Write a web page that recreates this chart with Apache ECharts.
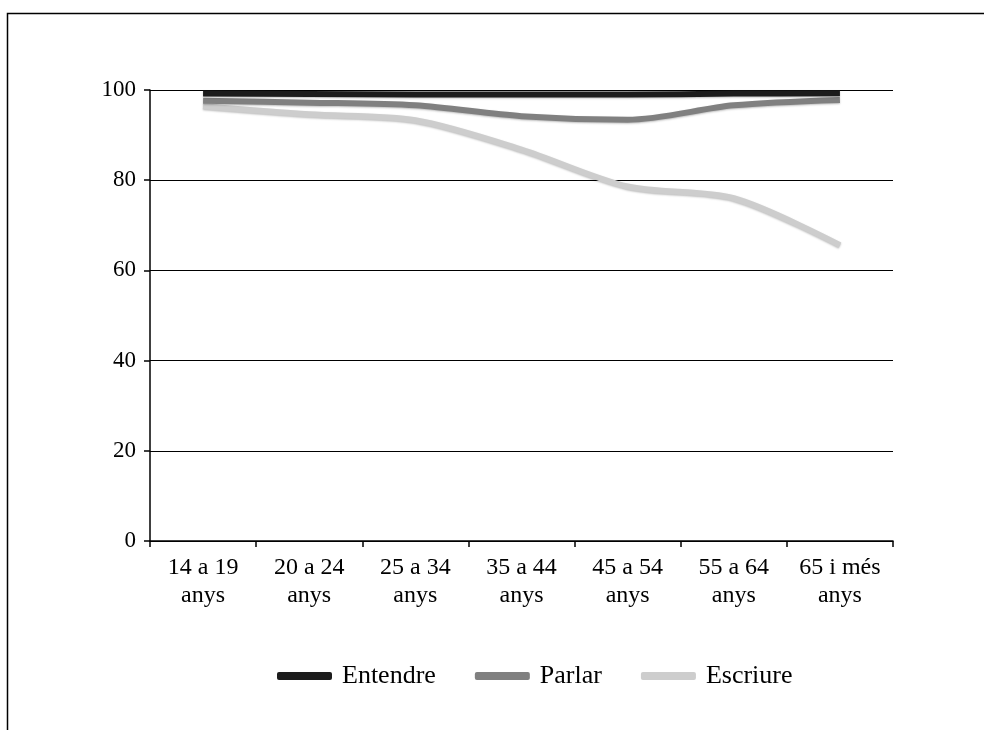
<!DOCTYPE html>
<html>
<head>
<meta charset="utf-8">
<script src="https://cdn.jsdelivr.net/npm/echarts@6/dist/echarts.min.js"></script>
<style>
  html, body { margin: 0; padding: 0; background: #fff; }
  #chart { width: 984px; height: 730px; }
</style>
</head>
<body>
<div id="chart"></div>
<script>
const categories = ["14 a 19\nanys", "20 a 24\nanys", "25 a 34\nanys", "35 a 44\nanys", "45 a 54\nanys", "55 a 64\nanys", "65 i més\nanys"];
const entendre = [99.2, 99.1, 99.0, 99.0, 99.0, 99.2, 99.3];
const parlar = [97.6, 97.2, 96.6, 94.2, 93.4, 96.6, 97.8];
const escriure = [96.4, 94.6, 93.3, 86.8, 78.6, 76.0, 65.6];
const yTicks = [0, 20, 40, 60, 80, 100];

const serif = "Liberation Serif";
const chart = echarts.init(document.getElementById("chart"));

function lineSeries(name, data, color, z) {
  return {
    name: name,
    type: "line",
    data: data,
    symbol: "none",
    smooth: 0.3,
    z: z,
    lineStyle: {
      color: color,
      width: 6,
      shadowColor: "rgba(0,0,0,0.25)",
      shadowBlur: 2,
      shadowOffsetY: 1
    },
    itemStyle: { color: color }
  };
}

chart.setOption({
  animation: false,
  backgroundColor: "#fff",
  graphic: [{
    type: "rect",
    left: 5,
    top: 11,
    shape: { width: 1100, height: 900 },
    style: { fill: "none", stroke: "#000", lineWidth: 1.5 },
    z: -1
  }],
  grid: { left: 150, right: 91, top: 90, bottom: 189 },
  legend: {
    data: ["Entendre", "Parlar", "Escriure"],
    left: 272,
    top: 658,
    itemWidth: 55,
    itemHeight: 8,
    itemGap: 39,
    icon: "roundRect",
    textStyle: {
      fontFamily: serif,
      fontSize: 26,
      color: "#000",
      padding: [0, 0, 0, 5]
    }
  },
  xAxis: {
    type: "category",
    data: categories,
    boundaryGap: true,
    axisLine: { lineStyle: { color: "#000", width: 1.5 } },
    axisTick: { show: true, length: 6, lineStyle: { color: "#000", width: 1.5 } },
    axisLabel: {
      fontFamily: serif,
      fontSize: 24,
      color: "#000",
      lineHeight: 28,
      margin: 13,
      interval: 0
    }
  },
  yAxis: {
    type: "value",
    min: yTicks[0],
    max: yTicks[yTicks.length - 1],
    interval: 20,
    axisLine: { show: true, lineStyle: { color: "#000", width: 1.5 } },
    axisTick: { show: true, length: 6, lineStyle: { color: "#000", width: 1.5 } },
    splitLine: { show: true, lineStyle: { color: "#000", width: 1.2 } },
    axisLabel: {
      fontFamily: serif,
      fontSize: 23,
      color: "#000",
      margin: 14
    }
  },
  series: [
    lineSeries("Entendre", entendre, "#1c1c1c", 5),
    lineSeries("Parlar", parlar, "#808080", 4),
    lineSeries("Escriure", escriure, "#cdcdcd", 3)
  ]
});
</script>
</body>
</html>
